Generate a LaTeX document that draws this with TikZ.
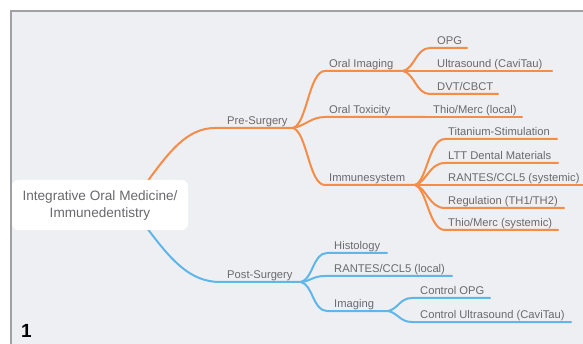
\documentclass[tikz,border=0pt]{standalone}
\usepackage{fontspec}
\setmainfont{Liberation Sans}
\definecolor{bgc}{RGB}{238,239,243}
\definecolor{framec}{RGB}{160,160,165}
\definecolor{orc}{RGB}{245,140,72}
\definecolor{blc}{RGB}{96,182,232}
\definecolor{txc}{RGB}{105,105,110}
\begin{document}
\begin{tikzpicture}[x=1pt,y=-1pt,
  lbl/.style={anchor=base west,inner sep=0pt,text=txc,font=\fontsize{11.2}{13}\selectfont},
  orl/.style={draw=orc,line width=2pt,line cap=round},
  bll/.style={draw=blc,line width=2pt,line cap=round},
  sbend/.style={}]
\useasboundingbox (0,0) rectangle (583,344);
\fill[bgc] (11,11) rectangle (583,344);
\draw[framec,line width=1.5pt] (11,344) -- (11,11) -- (583,11);
% coordinates
\coordinate (r1) at (147,182);
\coordinate (r2) at (147,228);
\coordinate (ps0) at (215,128); \coordinate (ps) at (293,128);
\coordinate (po0) at (220,282); \coordinate (po) at (301,282);
\coordinate (oi0) at (325,71); \coordinate (oi) at (403,71);
\coordinate (ot0) at (325,117); \coordinate (ot) at (425,117);
\coordinate (im0) at (325,185); \coordinate (im) at (415,185);
\coordinate (opg0) at (430,48); \coordinate (opg1) at (467,48);
\coordinate (us1) at (552,71);
\coordinate (dvt0) at (430,94); \coordinate (dvt1) at (498,94);
\coordinate (tml1) at (522,117);
\coordinate (ti0) at (445,139); \coordinate (ti1) at (557,139);
\coordinate (ltt0) at (445,163); \coordinate (ltt1) at (558,163);
\coordinate (rs1) at (585,185);
\coordinate (rg0) at (445,208); \coordinate (rg1) at (564,208);
\coordinate (tms0) at (445,230); \coordinate (tms1) at (558,230);
\coordinate (hi0) at (327,253); \coordinate (hi1) at (387,253);
\coordinate (rl0) at (325,276); \coordinate (rl1) at (452,276);
\coordinate (ig0) at (327,311); \coordinate (ig) at (388,311);
\coordinate (co0) at (412,298); \coordinate (co1) at (490,298);
\coordinate (cu0) at (412,322); \coordinate (cu1) at (571,322);
% orange connectors
\draw[orl] (r1) .. controls +(22,-30) and +(-28,0) .. (ps0) -- (ps);
\draw[orl] (ps) .. controls +(14,-4) and +(-16,0) .. (oi0) -- (oi);
\draw[orl] (ps) .. controls +(12,-2) and +(-14,0) .. (ot0) -- (ot);
\draw[orl] (ot) -- (tml1);
\draw[orl] (ps) .. controls +(14,4) and +(-16,0) .. (im0) -- (im);
\draw[orl] (oi) .. controls +(12,-3) and +(-14,0) .. (opg0) -- (opg1);
\draw[orl] (oi) -- (us1);
\draw[orl] (oi) .. controls +(12,3) and +(-14,0) .. (dvt0) -- (dvt1);
\draw[orl] (im) .. controls +(12,-4) and +(-16,0) .. (ti0) -- (ti1);
\draw[orl] (im) .. controls +(12,-3) and +(-16,0) .. (ltt0) -- (ltt1);
\draw[orl] (im) -- (rs1);
\draw[orl] (im) .. controls +(12,3) and +(-16,0) .. (rg0) -- (rg1);
\draw[orl] (im) .. controls +(12,4) and +(-16,0) .. (tms0) -- (tms1);
% blue connectors
\draw[bll] (r2) .. controls +(24,32) and +(-30,0) .. (po0) -- (po);
\draw[bll] (po) .. controls +(12,-3) and +(-14,0) .. (hi0) -- (hi1);
\draw[bll] (po) .. controls +(10,-1) and +(-12,0) .. (rl0) -- (rl1);
\draw[bll] (po) .. controls +(12,3) and +(-14,0) .. (ig0) -- (ig);
\draw[bll] (ig) .. controls +(10,-2) and +(-12,0) .. (co0) -- (co1);
\draw[bll] (ig) .. controls +(10,2) and +(-12,0) .. (cu0) -- (cu1);
% root
\node[fill=white,rounded corners=6pt,minimum width=176pt,minimum height=50pt,inner sep=0pt,
  align=center,text=txc,font=\fontsize{13.6}{17}\selectfont] (root) at (100,205)
  {Integrative Oral Medicine/\\Immunedentistry};
% labels
\node[lbl] (tpre) at (227,124.5) {Pre-Surgery};
\node[lbl] (tpost) at (227,278.5) {Post-Surgery};
\node[lbl] (toi) at (329,67.5) {Oral Imaging};
\node[lbl] (tot) at (329,113.5) {Oral Toxicity};
\node[lbl] (tim) at (329,181.5) {Immunesystem};
\node[lbl] (topg) at (437,44.5) {OPG};
\node[lbl] (tus) at (437,67.5) {Ultrasound (CaviTau)};
\node[lbl] (tdvt) at (437,90.5) {DVT/CBCT};
\node[lbl] (ttml) at (433,113.5) {Thio/Merc (local)};
\node[lbl] (tti) at (448,135.5) {Titanium-Stimulation};
\node[lbl] (tltt) at (448,159.5) {LTT Dental Materials};
\node[lbl] (trs) at (448,181.5) {RANTES/CCL5 (systemic)};
\node[lbl] (trg) at (448,204.5) {Regulation (TH1/TH2)};
\node[lbl] (ttms) at (448,226.5) {Thio/Merc (systemic)};
\node[lbl] (thi) at (334,249.5) {Histology};
\node[lbl] (trl) at (334,272.5) {RANTES/CCL5 (local)};
\node[lbl] (tig) at (334,307.5) {Imaging};
\node[lbl] (tco) at (420,294.5) {Control OPG};
\node[lbl] (tcu) at (420,318.5) {Control Ultrasound (CaviTau)};
\node[anchor=base west,inner sep=0pt,font=\fontsize{19}{20}\selectfont\bfseries] (num) at (21,337) {1};
\end{tikzpicture}
\end{document}
